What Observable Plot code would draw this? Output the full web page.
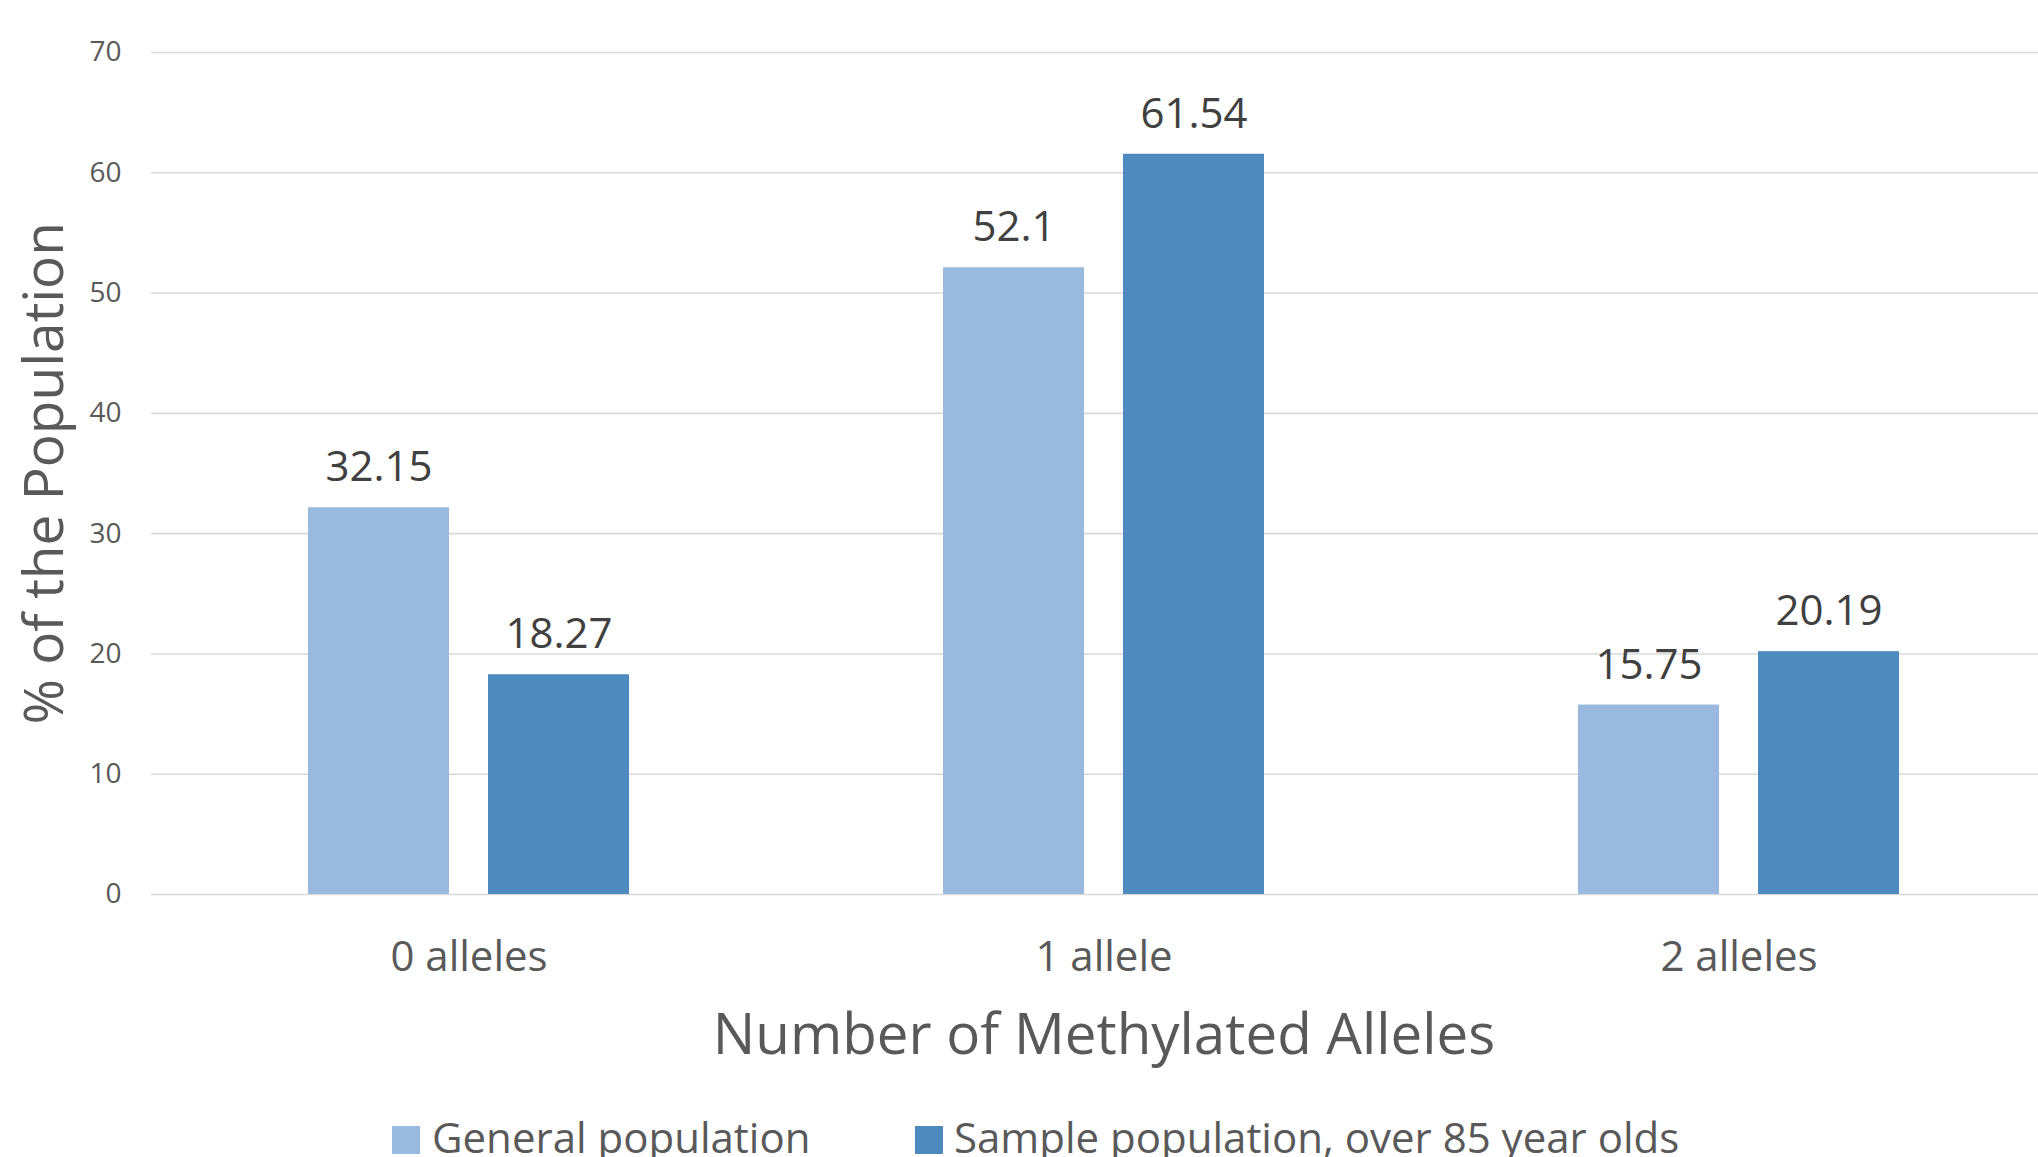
<!DOCTYPE html>
<html>
<head>
<meta charset="utf-8">
<script src="https://cdn.jsdelivr.net/npm/d3@7"></script>
<script src="https://cdn.jsdelivr.net/npm/@observablehq/plot@0.6"></script>
<style>
  html, body { margin: 0; padding: 0; background: #fff; overflow: hidden; }
  #wrap { width: 2038px; height: 1157px; overflow: hidden; position: relative; font-family: "Open Sans", sans-serif; background: #fff; }
  #chart { width: 2056px; height: 1100px; }
  #chart svg { max-width: none !important; display: block; }
  #legend { position: relative; width: 2038px; height: 57px; }
  .sw { position: absolute; top: 26px; width: 28px; height: 28px; }
  .lt { position: absolute; top: 8px; line-height: 57px; font-size: 42px; color: #595959; white-space: nowrap; }
</style>
</head>
<body>
<div id="wrap">
  <div id="chart"></div>
  <div id="legend"></div>
</div>
<script>
const categories = ["0 alleles", "1 allele", "2 alleles"];
const seriesNames = ["General population", "Sample population, over 85 year olds"];
const generalValues = [32.15, 52.1, 15.75];
const sampleValues = [18.27, 61.54, 20.19];
const yTicks = [0, 10, 20, 30, 40, 50, 60, 70];
const colors = ["#99b9de", "#4f8abe"];
const xTitle = "Number of Methylated Alleles";
const yTitle = "% of the Population";

const data = categories.flatMap((c, i) => [
  {category: c, series: seriesNames[0], value: generalValues[i]},
  {category: c, series: seriesNames[1], value: sampleValues[i]}
]);

const chart = Plot.plot({
  width: 2056,
  height: 1100,
  marginLeft: 151,
  marginRight: 0,
  marginTop: 52,
  marginBottom: 206,
  style: {fontFamily: "'Open Sans', sans-serif", background: "#fff", overflow: "visible", maxWidth: "none"},
  fx: {domain: categories, padding: 0, label: null},
  x: {domain: seriesNames, paddingInner: 0.2155, paddingOuter: 0.862, axis: null},
  y: {domain: [0, 70], label: null},
  color: {domain: seriesNames, range: colors},
  marks: [
    Plot.gridY(yTicks, {stroke: "#d9d9d9", strokeOpacity: 1, strokeWidth: 1.6}),
    Plot.barY(data, {fx: "category", x: "series", y: "value", fill: "series"}),
    Plot.text(data, {fx: "category", x: "series", y: "value", text: d => String(d.value), dy: -40, fontSize: 42, fill: "#404040"}),
    Plot.axisY(yTicks, {tickSize: 0, tickPadding: 30, fontSize: 28, fill: "#595959", label: null}),
    Plot.axisFx({anchor: "bottom", tickSize: 0, tickPadding: 47, fontSize: 42, fill: "#595959", label: null}),
    Plot.text([xTitle], {frameAnchor: "bottom", facet: "super", dy: 159, fontSize: 56.5, fill: "#595959"}),
    Plot.text([yTitle], {frameAnchor: "left", facet: "super", rotate: -90, dx: -106, dy: 251, fontSize: 55, fill: "#595959"})
  ]
});
document.getElementById("chart").appendChild(chart);

const legend = document.getElementById("legend");
const swatchLeft = [392, 915];
const textLeft = [432, 954];
seriesNames.forEach((name, i) => {
  const sw = document.createElement("div");
  sw.className = "sw";
  sw.style.left = swatchLeft[i] + "px";
  sw.style.background = colors[i];
  legend.appendChild(sw);
  const t = document.createElement("div");
  t.className = "lt";
  t.style.left = textLeft[i] + "px";
  t.textContent = name;
  legend.appendChild(t);
});
</script>
</body>
</html>
